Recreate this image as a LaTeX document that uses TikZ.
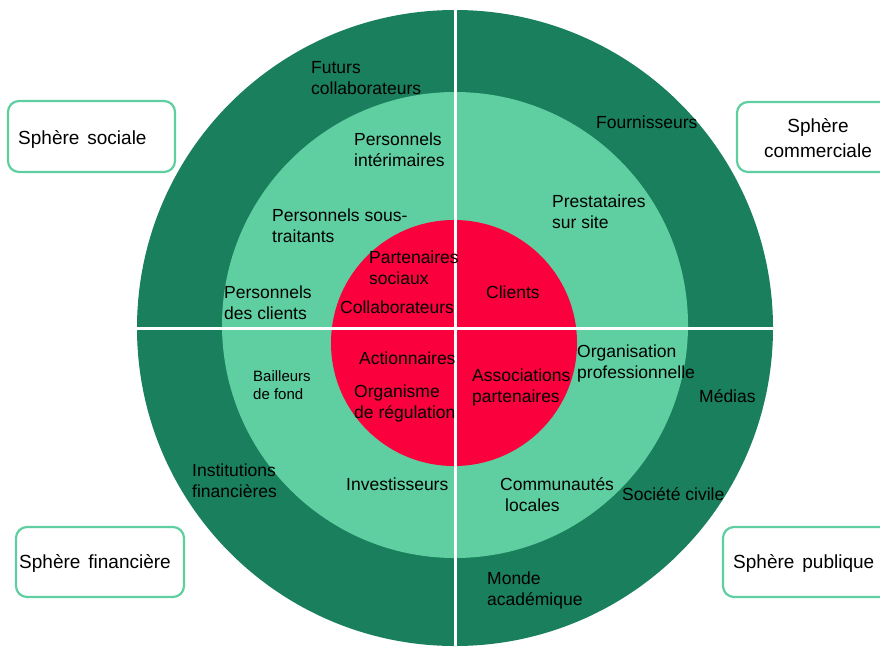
\documentclass[tikz,border=0pt]{standalone}
\usepackage{fontspec}
\setmainfont{Liberation Sans}
\definecolor{darkg}{RGB}{25,127,92}
\definecolor{midg}{RGB}{95,207,162}
\definecolor{redc}{RGB}{250,0,60}
\newcommand{\myboxfont}{\fontsize{19}{25}\selectfont\spaceskip=0.42em\relax}
\begin{document}
\begin{tikzpicture}[x=1pt,y=-1pt,
  lbl/.style={anchor=west,align=left,inner sep=0pt,yshift=-1.5pt,font=\fontsize{17.5}{21}\selectfont},
  lblsmall/.style={anchor=west,align=left,inner sep=0pt,yshift=-1.5pt,font=\fontsize{15}{18}\selectfont},
  sphere/.style={draw=midg,line width=2.2pt,rounded corners=11pt,fill=white},
  sphtext/.style={inner sep=0pt,yshift=-1.5pt,font=\myboxfont,align=center}]
\useasboundingbox (0,0) rectangle (880,646);
% rings
\fill[darkg] (455,328) circle (318);
\fill[midg] (455,325) circle (233);
\fill[redc] (454,343) circle (123);
\begin{scope}
\clip (0,0) rectangle (880,646);
\clip (455,328) circle (318);
\draw[white,line width=3pt] (130,328) -- (780,328);
\draw[white,line width=3pt] (455,0) -- (455,660);
\end{scope}
% sphere boxes
\draw[sphere] (8,101) rectangle (175,172);
\node[sphtext,anchor=west] (ssoc) at (18,138) {Sphère sociale};
\draw[sphere] (737,102) rectangle (900,172);
\node[sphtext] (scom) at (818,137) {Sphère\\commerciale};
\draw[sphere] (16,527) rectangle (184,597);
\node[sphtext,anchor=west] (sfin) at (19,562) {Sphère financière};
\draw[sphere] (723,527) rectangle (900,597);
\node[sphtext,anchor=west] (spub) at (733,562) {Sphère publique};
% labels
\node[lbl] (fut) at (311,76.5) {Futurs\\collaborateurs};
\node[lbl] (inter) at (354,148.5) {Personnels\\intérimaires};
\node[lbl] (four) at (596,121) {Fournisseurs};
\node[lbl] (prest) at (552,210.5) {Prestataires\\sur site};
\node[lbl] (sous) at (272,224.5) {Personnels sous-\\traitants};
\node[lbl] (part) at (369,266.5) {Partenaires\\sociaux};
\node[lbl] (cli) at (486,291) {Clients};
\node[lbl] (pdc) at (224,301.5) {Personnels\\des clients};
\node[lbl] (coll) at (340,306) {Collaborateurs};
\node[lbl] (orgp) at (577,361.5) {Organisation\\professionnelle};
\node[lbl] (act) at (359,357) {Actionnaires};
\node[lblsmall] (bail) at (253,384) {Bailleurs\\de fond};
\node[lbl] (assoc) at (472,385.5) {Associations\\partenaires};
\node[lbl] (med) at (699,395) {Médias};
\node[lbl] (orgr) at (354,401.5) {Organisme\\de régulation};
\node[lbl] (inst) at (192,479.5) {Institutions\\financières};
\node[lbl] (inv) at (346,483) {Investisseurs};
\node[lbl] (comm) at (500,493.5) {Communautés\\\hspace{5pt}locales};
\node[lbl] (soc) at (622,493) {Société civile};
\node[lbl] (monde) at (487,588.5) {Monde\\académique};
\end{tikzpicture}
\end{document}
